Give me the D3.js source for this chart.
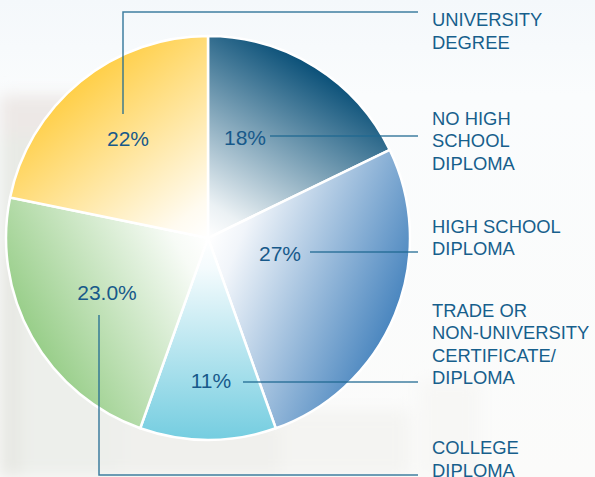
<!DOCTYPE html>
<html>
<head>
<meta charset="utf-8">
<script src="https://cdn.jsdelivr.net/npm/d3@7"></script>
<style>
  html, body { margin: 0; padding: 0; background: #fbfdfe; }
  svg { display: block; font-family: "Liberation Sans", Arial, sans-serif; }
</style>
</head>
<body>
<div id="chart"></div>
<script>
// data, clockwise from 12 o'clock
var categories = ["No high school diploma", "High school diploma", "Trade or non-university certificate/diploma", "College diploma", "University degree"];
var values = [18, 27, 11, 23, 22];
var valueLabels = ["18%", "27%", "11%", "23.0%", "22%"];
var legendLines = [
    ["NO HIGH", "SCHOOL", "DIPLOMA"],
    ["HIGH SCHOOL", "DIPLOMA"],
    ["TRADE OR", "NON-UNIVERSITY", "CERTIFICATE/", "DIPLOMA"],
    ["COLLEGE", "DIPLOMA"],
    ["UNIVERSITY", "DEGREE"]
];

var colors = ["#0a5078", "#4a86bf", "#74cde0", "#98ce89", "#ffcf48"];

var width = 595, height = 477;
var cx = 208, cy = 238, radius = 202;

// where each value label / leader / legend block sits
var layout = [
    { lx: 245, ly: 145, legendY: 124.5, path: [[270, 136], [418, 136]] },
    { lx: 280, ly: 261, legendY: 232.5, path: [[310, 252], [418, 252]] },
    { lx: 211, ly: 388, legendY: 316.5, path: [[243, 382], [418, 382]] },
    { lx: 107, ly: 300, legendY: 454,   path: [[99, 315], [99, 475], [418, 475]] },
    { lx: 128, ly: 146, legendY: 26,    path: [[123, 114], [123, 12], [418, 12]] }
];

var svg = d3.select("#chart").append("svg")
    .attr("width", width)
    .attr("height", height);

var defs = svg.append("defs");

// faint blurred photo in the background
defs.append("filter").attr("id", "blur")
    .attr("x", "-20%").attr("y", "-20%").attr("width", "140%").attr("height", "140%")
    .append("feGaussianBlur").attr("stdDeviation", 8);

var bgGrad = defs.append("linearGradient").attr("id", "bgfade")
    .attr("x1", 0).attr("y1", 0).attr("x2", 0).attr("y2", 1);
bgGrad.append("stop").attr("offset", 0).attr("stop-color", "#f4f8fb");
bgGrad.append("stop").attr("offset", 0.2).attr("stop-color", "#fafcfd");
bgGrad.append("stop").attr("offset", 1).attr("stop-color", "#fbfbfa");

svg.append("rect").attr("width", width).attr("height", height).attr("fill", "url(#bgfade)");

var bg = svg.append("g").attr("filter", "url(#blur)");
var bgBlocks = [
    [0, 95, 140, 40, "#ede8e6"], [0, 135, 60, 120, "#e8eae5"], [0, 250, 40, 227, "#e6e7e2"],
    [20, 300, 120, 177, "#edefeb"], [120, 420, 160, 57, "#f0f0ed"], [280, 410, 130, 67, "#f4f4f2"],
    [420, 380, 60, 97, "#f7f7f5"]
];
bg.selectAll("rect").data(bgBlocks).enter().append("rect")
    .attr("x", d => d[0]).attr("y", d => d[1])
    .attr("width", d => d[2]).attr("height", d => d[3])
    .attr("fill", d => d[4]);

var pie = d3.pie().sort(null).value(d => d);
var arcs = pie(values);
var arc = d3.arc().innerRadius(0).outerRadius(radius);

// one gradient per slice, white at the centre to colour at the rim along the slice bisector
arcs.forEach(function(a, i) {
    var mid = (a.startAngle + a.endAngle) / 2;
    var g = defs.append("linearGradient")
        .attr("id", "slice" + i)
        .attr("gradientUnits", "userSpaceOnUse")
        .attr("x1", 0).attr("y1", 0)
        .attr("x2", Math.sin(mid) * radius).attr("y2", -Math.cos(mid) * radius);
    g.append("stop").attr("offset", 0).attr("stop-color", "#ffffff");
    g.append("stop").attr("offset", 0.15).attr("stop-color", d3.interpolateRgb("#ffffff", colors[i])(0.08));
    g.append("stop").attr("offset", 1).attr("stop-color", colors[i]);
});

var pieGroup = svg.append("g").attr("transform", `translate(${cx}, ${cy})`);

pieGroup.selectAll("path")
    .data(arcs)
    .enter()
    .append("path")
    .attr("d", arc)
    .attr("fill", (d, i) => `url(#slice${i})`)
    .attr("stroke", "#ffffff")
    .attr("stroke-width", 2.5)
    .attr("stroke-linejoin", "round");

// leader lines
var line = d3.line();
svg.append("g").selectAll("path")
    .data(layout)
    .enter()
    .append("path")
    .attr("d", d => line(d.path))
    .attr("fill", "none")
    .attr("stroke", "#1f6891")
    .attr("stroke-opacity", 0.85)
    .attr("stroke-width", 1.5);

// value labels
svg.append("g").selectAll("text")
    .data(valueLabels)
    .enter()
    .append("text")
    .attr("x", (d, i) => layout[i].lx)
    .attr("y", (d, i) => layout[i].ly)
    .attr("text-anchor", "middle")
    .attr("font-size", 21)
    .attr("fill", "#17598a")
    .text(d => d);

// legend text on the right
var legend = svg.append("g").selectAll("text")
    .data(legendLines)
    .enter()
    .append("text")
    .attr("x", 432)
    .attr("y", (d, i) => layout[i].legendY)
    .attr("font-size", 18.4)
    .attr("fill", "#175f8c");

legend.selectAll("tspan")
    .data(d => d)
    .enter()
    .append("tspan")
    .attr("x", 432)
    .attr("dy", (d, j) => j === 0 ? 0 : 22.5)
    .text(d => d);
</script>
</body>
</html>
